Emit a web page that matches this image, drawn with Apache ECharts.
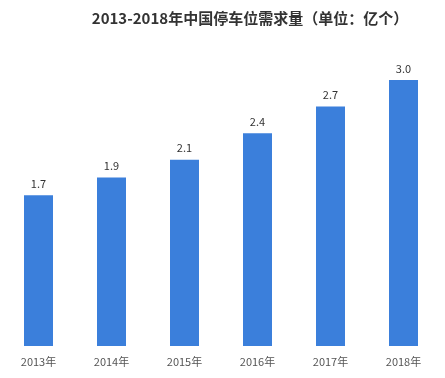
<!DOCTYPE html>
<html>
<head>
<meta charset="utf-8">
<script src="https://cdn.jsdelivr.net/npm/echarts@6/dist/echarts.min.js"></script>
<style>
  html, body { margin: 0; padding: 0; background: #fff; }
  #chart { width: 445px; height: 378px; }
</style>
</head>
<body>
<div id="chart"></div>
<script>
const years = ['2013年', '2014年', '2015年', '2016年', '2017年', '2018年'];
const demand = [1.7, 1.9, 2.1, 2.4, 2.7, 3.0];

const chart = echarts.init(document.getElementById('chart'));
chart.setOption({
    backgroundColor: '#fff',
    title: {
        text: '2013-2018年中国停车位需求量（单位：亿个）',
        left: 245,
        textAlign: 'center',
        top: 6,
        textStyle: {
            fontFamily: 'Noto Sans CJK SC',
            fontSize: 15,
            fontWeight: 'bold',
            color: '#333'
        }
    },
    grid: { left: 2, right: 5, top: 80, bottom: 32 },
    xAxis: {
        type: 'category',
        data: years,
        axisLine: { show: false },
        axisTick: { show: false },
        axisLabel: {
            margin: 10,
            fontFamily: 'Noto Sans CJK SC',
            fontSize: 11,
            color: '#555'
        }
    },
    yAxis: {
        type: 'value',
        min: 0,
        max: 3,
        show: false
    },
    series: [{
        type: 'bar',
        data: demand,
        barWidth: 29,
        itemStyle: { color: '#3b7fdb' },
        label: {
            show: true,
            position: 'top',
            distance: 6,
            formatter: p => p.value.toFixed(1),
            fontFamily: 'Noto Sans CJK SC',
            fontSize: 11,
            color: '#333'
        }
    }]
});
</script>
</body>
</html>
